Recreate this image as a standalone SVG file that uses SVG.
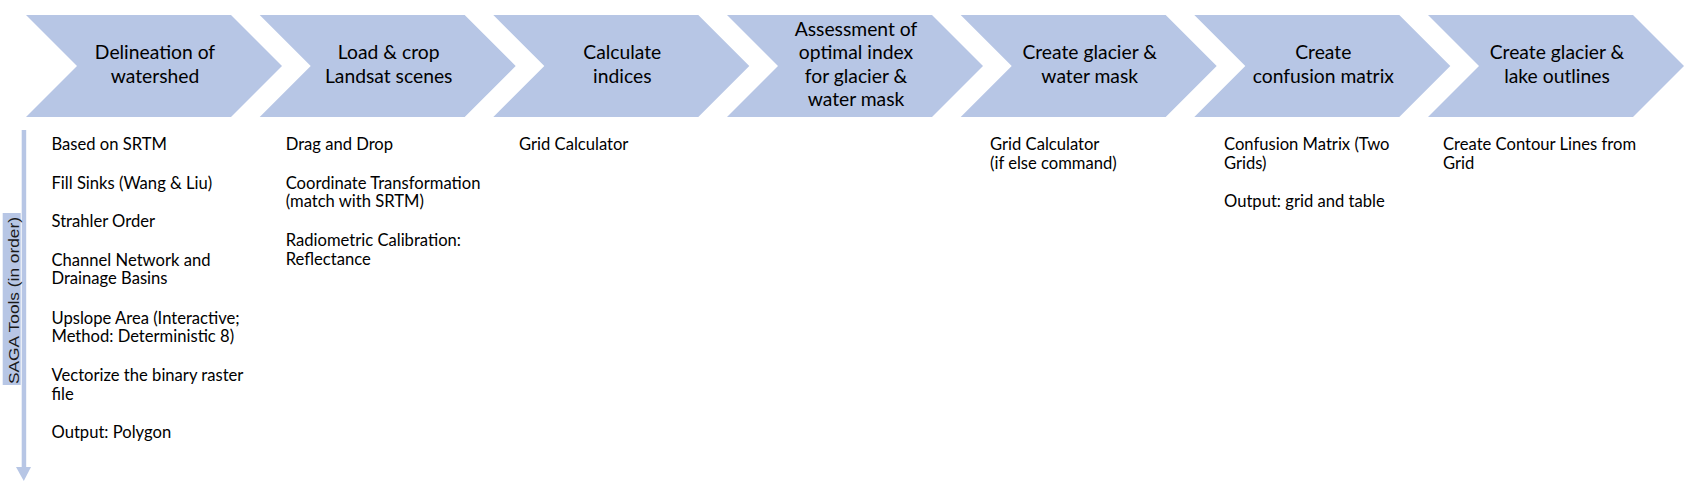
<svg xmlns="http://www.w3.org/2000/svg" xmlns:xlink="http://www.w3.org/1999/xlink" width="1684" height="490" viewBox="0 0 1684 490">
<style>
.chev{fill:#B7C6E5;}
.hd{font-family:Lato,"Noto Sans","DejaVu Sans",sans-serif;font-size:19.3px;fill:#000;text-anchor:middle;}
.tx{font-family:Lato,"Noto Sans","DejaVu Sans",sans-serif;font-size:16.6px;fill:#000;}
.lbl{font-family:"Liberation Sans",Arial,sans-serif;font-size:15px;fill:#1a1a1a;}
</style>
<defs>
<path id="chevShape" d="M0,15 H205 L256,66 L205,117 H0 L51,66 Z"/>
</defs>
<rect width="1684" height="490" fill="#fff"/>
<g id="connectors">
<rect x="21.7" y="130" width="4.5" height="338" fill="#B7C6E5"/>
<polygon points="16,467 31,467 23.8,481" fill="#B7C6E5"/>
<rect x="2.7" y="213" width="18" height="172" fill="#B7C6E5"/>
<text class="lbl" transform="translate(18.5,384) rotate(-90)" textLength="167" lengthAdjust="spacingAndGlyphs">SAGA Tools (in order)</text>
</g>
<g id="step1">
<use xlink:href="#chevShape" x="26" class="chev"/>
<text class="hd" x="155" y="59.3">Delineation of</text>
<text class="hd" x="155" y="82.7">watershed</text>
<text class="tx" x="51.5" y="150">Based on SRTM</text>
<text class="tx" x="51.5" y="188.5">Fill Sinks (Wang &amp; Liu)</text>
<text class="tx" x="51.5" y="227">Strahler Order</text>
<text class="tx" x="51.5" y="265.5">Channel Network and</text>
<text class="tx" x="51.5" y="284">Drainage Basins</text>
<text class="tx" x="51.5" y="323.5">Upslope Area (Interactive;</text>
<text class="tx" x="51.5" y="342">Method: Deterministic 8)</text>
<text class="tx" x="51.5" y="380.5">Vectorize the binary raster</text>
<text class="tx" x="51.5" y="399.5">file</text>
<text class="tx" x="51.5" y="438.3">Output: Polygon</text>
</g>
<g id="step2">
<use xlink:href="#chevShape" x="259.7" class="chev"/>
<text class="hd" x="388.7" y="59.3">Load &amp; crop</text>
<text class="hd" x="388.7" y="82.7">Landsat scenes</text>
<text class="tx" x="285.7" y="150">Drag and Drop</text>
<text class="tx" x="285.7" y="188.5">Coordinate Transformation</text>
<text class="tx" x="285.7" y="207.3">(match with SRTM)</text>
<text class="tx" x="285.7" y="246">Radiometric Calibration:</text>
<text class="tx" x="285.7" y="265">Reflectance</text>
</g>
<g id="step3">
<use xlink:href="#chevShape" x="493.3" class="chev"/>
<text class="hd" x="622.3" y="59.3">Calculate</text>
<text class="hd" x="622.3" y="82.7">indices</text>
<text class="tx" x="519" y="150">Grid Calculator</text>
</g>
<g id="step4">
<use xlink:href="#chevShape" x="727" class="chev"/>
<text class="hd" x="856" y="36">Assessment of</text>
<text class="hd" x="856" y="59.3">optimal index</text>
<text class="hd" x="856" y="82.7">for glacier &amp;</text>
<text class="hd" x="856" y="106">water mask</text>
</g>
<g id="step5">
<use xlink:href="#chevShape" x="960.7" class="chev"/>
<text class="hd" x="1089.7" y="59.3">Create glacier &amp;</text>
<text class="hd" x="1089.7" y="82.7">water mask</text>
<text class="tx" x="990" y="150">Grid Calculator</text>
<text class="tx" x="990" y="168.5">(if else command)</text>
</g>
<g id="step6">
<use xlink:href="#chevShape" x="1194.3" class="chev"/>
<text class="hd" x="1323.3" y="59.3">Create</text>
<text class="hd" x="1323.3" y="82.7">confusion matrix</text>
<text class="tx" x="1224" y="150">Confusion Matrix (Two</text>
<text class="tx" x="1224" y="168.5">Grids)</text>
<text class="tx" x="1224" y="207">Output: grid and table</text>
</g>
<g id="step7">
<use xlink:href="#chevShape" x="1428" class="chev"/>
<text class="hd" x="1557" y="59.3">Create glacier &amp;</text>
<text class="hd" x="1557" y="82.7">lake outlines</text>
<text class="tx" x="1443" y="150">Create Contour Lines from</text>
<text class="tx" x="1443" y="168.5">Grid</text>
</g>
</svg>
